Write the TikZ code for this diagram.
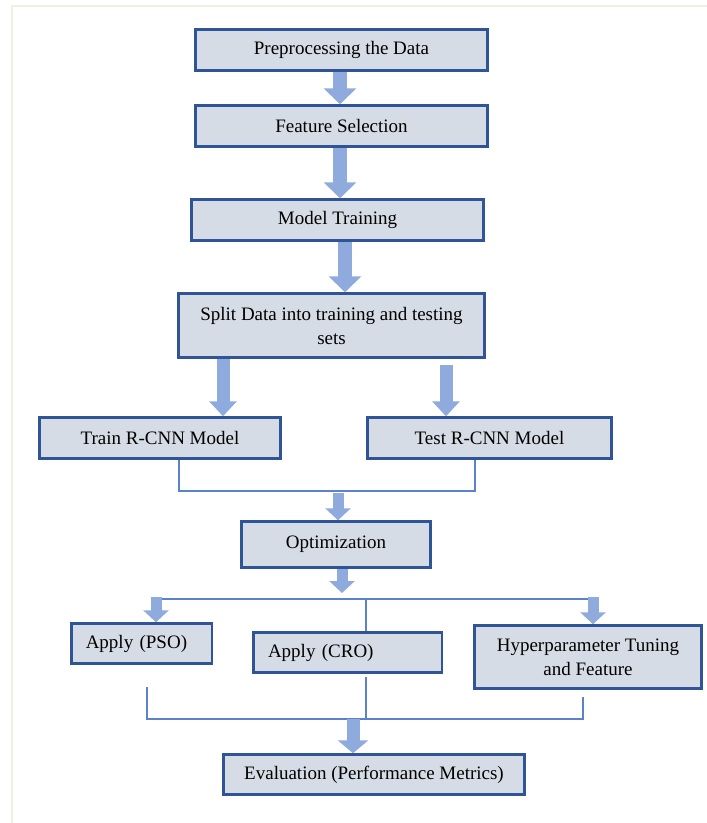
\documentclass[tikz,border=0pt]{standalone}
\usepackage{fontspec}
\setmainfont{Liberation Serif}
\usetikzlibrary{arrows.meta,calc}
\definecolor{boxfill}{HTML}{D6DCE5}
\definecolor{boxdraw}{HTML}{2F5597}
\definecolor{arrfill}{HTML}{8FAADC}
\definecolor{linecol}{HTML}{5B82CC}
\definecolor{pageedge}{HTML}{EEF0E0}
\begin{document}
\begin{tikzpicture}[x=1pt,y=-1pt,
  box/.style={draw=boxdraw,fill=boxfill,line width=2.5pt,inner sep=0pt,
    font=\fontsize{19}{24}\selectfont,align=center},
  bigarrow/.style={arrfill,line width=14pt,-{Triangle[width=32pt,length=16pt]}},
  midarrow/.style={arrfill,line width=13pt,-{Triangle[width=27pt,length=15pt]}},
  smallarrow/.style={arrfill,line width=11pt,-{Triangle[width=25pt,length=12pt]}},
  evalarrow/.style={arrfill,line width=13pt,-{Triangle[width=30pt,length=13pt]}},
  thinline/.style={draw=linecol,line width=1.3pt}]
\useasboundingbox (0,0) rectangle (707,823);
\fill[white] (0,0) rectangle (707,823);
\draw[pageedge,line width=2pt] (12,823) -- (12,6) -- (707,6);

% boxes
\node[box,minimum width=292pt,minimum height=41pt] (pre) at (341.5,50) {Preprocessing the Data};
\node[box,minimum width=292pt,minimum height=41pt] (feat) at (341.5,126) {Feature Selection};
\node[box,minimum width=292pt,minimum height=41pt] (model) at (337.5,220) {Model Training};
\node[box,minimum width=306pt,minimum height=64pt] (split) at (331.5,325.5) {Split Data into training and testing\\sets};
\node[box,minimum width=241pt,minimum height=41pt] (trainr) at (160,438) {Train R-CNN Model};
\node[box,minimum width=244pt,minimum height=41pt] (testr) at (489.5,438) {Test R-CNN Model};
\node[box,minimum width=189pt,minimum height=46pt] (opt) at (336,544.5) {Optimization};
\node[box,text width=111.5pt,inner xsep=14.5pt,align=left,minimum height=40pt] (pso) at (141.5,643.5) {Apply (PSO)};
\node[box,text width=159pt,inner xsep=14.75pt,align=left,minimum height=40pt] (cro) at (347.5,652.5) {Apply (CRO)};
\node[box,minimum width=227pt,minimum height=63pt] (hyp) at (588,657) {Hyperparameter Tuning\\and Feature};
\node[box,minimum width=301pt,minimum height=40pt] (eval) at (374,774.5) {Evaluation (Performance Metrics)};

% junction coordinates
\coordinate (a1) at (340,0);
\coordinate (a3) at (345,0);
\coordinate (sl) at (223,0);
\coordinate (srtop) at (446,365);
\coordinate (tb1) at (179,491);
\coordinate (tb2) at (475,491);
\coordinate (optin) at (338,493);
\coordinate (optout) at (342,593);
\coordinate (dl) at (156,599);
\coordinate (dm) at (366,599);
\coordinate (dr) at (593,599);
\coordinate (psotop) at (156,597);
\coordinate (hyptop) at (593,597);
\coordinate (pb) at (147,687);
\coordinate (cb) at (366,677);
\coordinate (hb) at (583,697);
\coordinate (bl) at (147,719);
\coordinate (bm) at (366,719);
\coordinate (br) at (583,719);
\coordinate (evin) at (353,719);

% thin connectors
\draw[thinline] (trainr.south -| tb1) -- (tb1) -- (tb2) -- (testr.south -| tb2);
\draw[thinline] (dl) -- (dr);
\draw[thinline] (dm) -- (cro.north -| dm);
\draw[thinline] (pb) -- (bl) -- (br) -- (hb);
\draw[thinline] (cb) -- (bm);

% block arrows
\draw[bigarrow] (pre.south -| a1) -- (feat.north -| a1);
\draw[bigarrow] (feat.south -| a1) -- (model.north -| a1);
\draw[bigarrow] (model.south -| a3) -- (split.north -| a3);
\draw[midarrow] (split.south -| sl) -- (trainr.north -| sl);
\draw[midarrow] (srtop) -- (testr.north -| srtop);
\draw[smallarrow] (optin) -- (opt.north -| optin);
\draw[smallarrow] (opt.south -| optout) -- (optout);
\draw[smallarrow] (psotop) -- (pso.north -| psotop);
\draw[smallarrow] (hyptop) -- (hyp.north -| hyptop);
\draw[evalarrow] (evin) -- (eval.north -| evin);
\end{tikzpicture}
\end{document}
